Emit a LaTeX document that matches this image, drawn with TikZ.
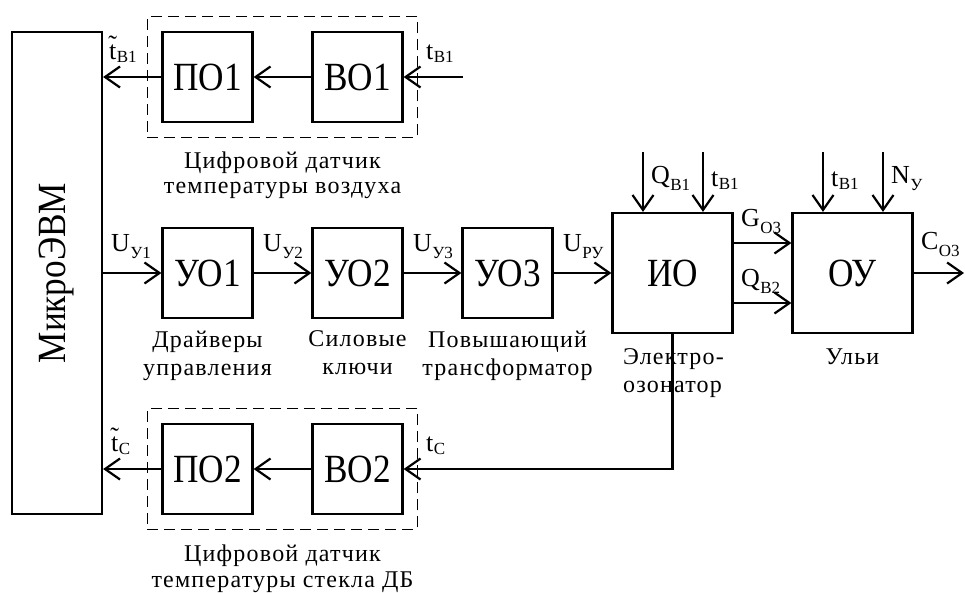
\documentclass[tikz,border=0pt]{standalone}
\usepackage{fontspec}
\setmainfont{Liberation Serif}
\newfontfamily\boxfont{Liberation Serif}[FakeStretch=0.88]
\newfontfamily\lblfont{Liberation Serif}[LetterSpace=5]
\usetikzlibrary{arrows.meta,fit}
\newcommand{\sbx}[2][7pt]{\kern0.5pt\raisebox{-#1}{\fontsize{17}{17}\selectfont #2}}
\newcommand{\tlt}{\ooalign{t\cr\hidewidth\raisebox{6pt}{\char"02DC}\hidewidth\cr}}
\begin{document}
\begin{tikzpicture}[x=1pt,y=-1pt,line width=2.2pt,
  >={Straight Barb[length=15pt,width=21pt]},
  blk/.style={draw,minimum width=90pt,minimum height=90pt,inner sep=0pt,font=\boxfont\fontsize{40}{40}\selectfont},
  bigblk/.style={blk,minimum width=120pt,minimum height=120pt},
  sgl/.style={anchor=base west,inner sep=0pt,font=\fontsize{26}{26}\selectfont},
  lbl/.style={inner sep=0pt,font=\lblfont\fontsize{24}{28}\selectfont},
  grp/.style={draw,line width=1pt,dash pattern=on 11pt off 6pt,inner sep=14pt}]
\useasboundingbox (0,0) rectangle (965,592);

\node[draw,rotate=90,minimum width=482pt,minimum height=90pt,inner sep=0pt,
      font=\boxfont\fontsize{40}{40}\selectfont] (mc) at (57,273) {МикроЭВМ};

\node[blk] (po1) at (207.5,77) {ПО1};
\node[blk] (bo1) at (357.5,77) {ВО1};
\node[blk] (po2) at (207.5,469) {ПО2};
\node[blk] (bo2) at (357.5,469) {ВО2};
\node[blk] (uo1) at (207.5,273) {УО1};
\node[blk] (uo2) at (357.5,273) {УО2};
\node[blk] (uo3) at (507.5,273) {УО3};
\node[bigblk] (io) at (672.5,273) {ИО};
\node[bigblk] (ou) at (852.5,273) {ОУ};

\node[grp,fit=(po1)(bo1)] (g1) {};
\node[grp,fit=(po2)(bo2)] (g2) {};

\node[lbl,anchor=north,align=center,font=\lblfont\fontsize{24}{25}\selectfont] (g1t) at (282.5,151) {Цифровой датчик\\температуры воздуха};
\node[lbl,anchor=north,align=center,font=\lblfont\fontsize{24}{25.5}\selectfont] (g2t) at (282.5,544) {Цифровой датчик\\температуры стекла ДБ};
\node[lbl,anchor=north,align=center] (uo1t) at (207.5,330) {Драйверы\\управления};
\node[lbl,anchor=north,align=center] (uo2t) at (357.5,330) {Силовые\\ключи};
\node[lbl,anchor=north,align=center] (uo3t) at (507.5,330) {Повышающий\\трансформатор};
\node[lbl,anchor=north west,align=left] (iot) at (622,348) {Электро-\\озонатор};
\node[lbl,anchor=north] (ult) at (852.5,348) {Ульи};

\coordinate (i1) at (463,77);
\coordinate (o1) at (964,273);
\coordinate (a1) at (643,152);
\coordinate (a2) at (703,152);
\coordinate (a3) at (823,152);
\coordinate (a4) at (883,152);

\draw[->] (i1) -- (bo1.east);
\draw[->] (bo1.west) -- (po1.east);
\draw[->] (po1.west) -- (po1.west -| mc.south);
\draw[->] (io.south) |- (bo2.east);
\draw[->] (bo2.west) -- (po2.east);
\draw[->] (po2.west) -- (po2.west -| mc.south);
\draw[->] (mc.south) -- (uo1.west);
\draw[->] (uo1.east) -- (uo2.west);
\draw[->] (uo2.east) -- (uo3.west);
\draw[->] (uo3.east) -- (io.west);
\draw[->] ([yshift=30pt]io.east) -- ([yshift=30pt]io.east -| ou.west);
\draw[->] ([yshift=-30pt]io.east) -- ([yshift=-30pt]io.east -| ou.west);
\draw[->] (ou.east) -- (o1);
\draw[->] (a1) -- (a1 |- io.north);
\draw[->] (a2) -- (a2 |- io.north);
\draw[->] (a3) -- (a3 |- ou.north);
\draw[->] (a4) -- (a4 |- ou.north);

\node[sgl] (s1) at (108,59) {\tlt\sbx[3pt]{В1}};
\node[sgl] (s2) at (425,59) {t\sbx[3pt]{В1}};
\node[sgl] (s3) at (110,251) {U\sbx{У1}};
\node[sgl] (s4) at (262,251) {U\sbx{У2}};
\node[sgl] (s5) at (412,251) {U\sbx{У3}};
\node[sgl] (s6) at (562,251) {U\sbx{РУ}};
\node[sgl] (s7) at (650,183) {Q\sbx{В1}};
\node[sgl] (s8) at (710,186) {t\sbx[3pt]{В1}};
\node[sgl] (s9) at (830,186) {t\sbx[3pt]{В1}};
\node[sgl] (s10) at (890,183) {N\sbx{У}};
\node[sgl] (s11) at (740,226) {G\sbx{О3}};
\node[sgl] (s12) at (740,286) {Q\sbx{В2}};
\node[sgl] (s13) at (920,249) {C\sbx{О3}};
\node[sgl] (s14) at (110,451) {\tlt\sbx[3pt]{С}};
\node[sgl] (s15) at (425,451) {t\sbx[3pt]{С}};
\end{tikzpicture}
\end{document}
